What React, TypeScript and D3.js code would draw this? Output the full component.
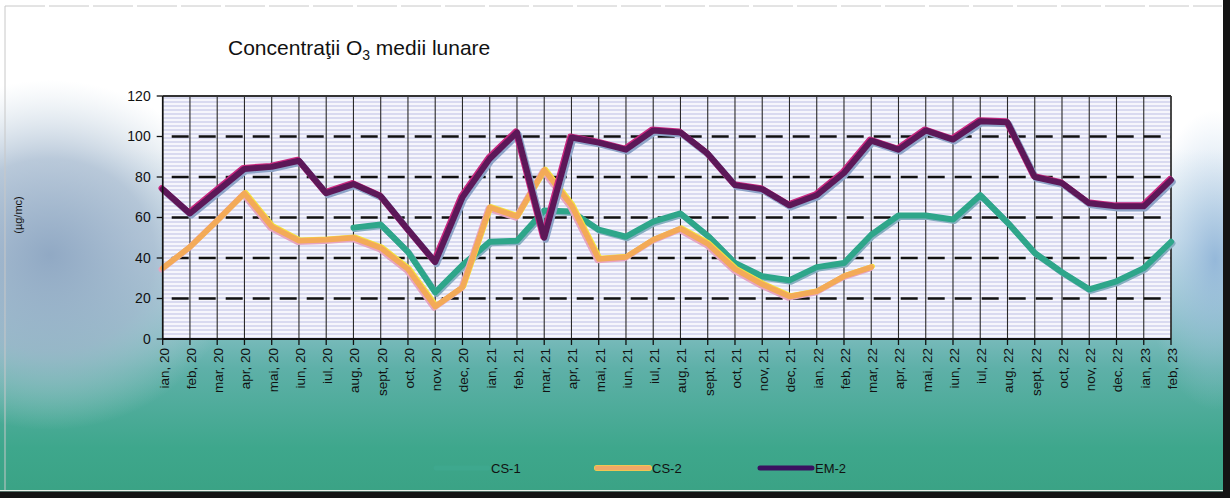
import React from "react";
import * as d3 from "d3";

const months = [
  "ian, 20","feb, 20","mar, 20","apr, 20","mai, 20","iun, 20","iul, 20","aug, 20","sept, 20","oct, 20","nov, 20","dec, 20",
  "ian, 21","feb, 21","mar, 21","apr, 21","mai, 21","iun, 21","iul, 21","aug, 21","sept, 21","oct, 21","nov, 21","dec, 21",
  "ian, 22","feb, 22","mar, 22","apr, 22","mai, 22","iun, 22","iul, 22","aug, 22","sept, 22","oct, 22","nov, 22","dec, 22",
  "ian, 23","feb, 23",
];

const cs1: (number | null)[] = [
  null, null, null, null, null, null, null, 55, 56.5, 43, 23, 36.5,
  48, 48.5, 63.5, 63, 54, 50.5, 58, 62, 51, 37.5, 31, 29,
  35.5, 37.5, 51.5, 61, 61, 59, 71, 57.5, 42.5, 33, 24.5, 28.5,
  35, 48,
];

const cs2: (number | null)[] = [
  35, 45.5, 58.5, 72, 55.5, 48.5, 49, 50, 45, 34.5, 16, 25.5,
  65, 60.5, 83.5, 66, 39.5, 40.5, 49, 54.5, 47, 34.5, 27, 21,
  23.5, 31, 35.5, null, null, null, null, null, null, null, null, null,
  null, null,
];

const em2: (number | null)[] = [
  74, 62, 73, 84, 85, 88, 72, 76.5, 70.5, 54, 38, 70,
  89, 102, 50, 99.5, 97, 93.5, 103, 102, 91.5, 76, 74, 66,
  71, 82, 98, 93.5, 103, 98.5, 107.5, 107, 80, 77, 67, 65.5,
  65.5, 78.5,
];

const yTicks = [0, 20, 40, 60, 80, 100, 120];
const seriesNames = ["CS-1", "CS-2", "EM-2"];

const W = 1230;
const H = 498;
const PL = 162.7;
const PR = 1171;
const PT = 96;
const PB = 339;
const FONT = "Liberation Sans, Arial, sans-serif";

export default function App() {
  const x = d3.scalePoint<string>().domain(months).range([PL, PR]);
  const y = d3.scaleLinear().domain([0, 120]).range([PB, PT]);

  const mk = (vals: (number | null)[]) =>
    d3
      .line<number | null>()
      .defined((d) => d !== null)
      .x((_, i) => x(months[i]) as number)
      .y((d) => y(d as number))(vals) || "";

  const p1 = mk(cs1);
  const p2 = mk(cs2);
  const p3 = mk(em2);

  const legendX = [436, 597, 760];

  return (
    <svg
      width={W}
      height={H}
      style={{ position: "absolute", left: 0, top: 0, display: "block" }}
      xmlns="http://www.w3.org/2000/svg"
    >
      <defs>
        <linearGradient id="bg" x1="0" y1="0" x2="0" y2="1">
          <stop offset="0%" stopColor="#ffffff" />
          <stop offset="30%" stopColor="#ffffff" />
          <stop offset="48%" stopColor="#d4e6ee" />
          <stop offset="64%" stopColor="#88c0c6" />
          <stop offset="74%" stopColor="#5eb0a8" />
          <stop offset="90%" stopColor="#3ea78c" />
          <stop offset="100%" stopColor="#3aa284" />
        </linearGradient>
        <radialGradient id="cloudL" cx="0.5" cy="0.5" r="0.5">
          <stop offset="0%" stopColor="#8ea6c2" stopOpacity="0.95" />
          <stop offset="55%" stopColor="#a4b8ce" stopOpacity="0.75" />
          <stop offset="100%" stopColor="#c8d8e4" stopOpacity="0" />
        </radialGradient>
        <radialGradient id="cloudR" cx="0.5" cy="0.5" r="0.5">
          <stop offset="0%" stopColor="#90b4d8" stopOpacity="0.9" />
          <stop offset="100%" stopColor="#b8d0e8" stopOpacity="0" />
        </radialGradient>
        <pattern id="stripes" patternUnits="userSpaceOnUse" width="20" height="4">
          <rect x="0" y="0" width="20" height="4" fill="#f6f6fc" />
          <rect x="0" y="1" width="20" height="2" fill="#d9daf0" />
        </pattern>
      </defs>

      {/* background */}
      <rect x={0} y={0} width={W} height={H} fill="url(#bg)" />
      <ellipse cx={50} cy={255} rx={190} ry={175} fill="url(#cloudL)" />
      <ellipse cx={1215} cy={260} rx={70} ry={150} fill="url(#cloudR)" />
      <line x1={5} y1={6} x2={1222} y2={6} stroke="#c8c8c8" strokeWidth={1} strokeDasharray="40 4" />
      <line x1={5} y1={6} x2={5} y2={490} stroke="#c8c8c8" strokeWidth={1} />
      <rect x={0} y={490} width={W} height={1.5} fill="#e8f0e8" />
      <rect x={0} y={491.5} width={W} height={H - 491.5} fill="#141414" />
      <rect x={1223} y={0} width={W - 1223} height={H} fill="#141414" />

      {/* title */}
      <text x={228} y={55} fontFamily={FONT} fontSize={21} fill="#111">
        Concentraţii O<tspan fontSize={14} dy={5}>3</tspan>
        <tspan dy={-5}> medii lunare</tspan>
      </text>

      {/* y axis title */}
      <text
        transform={`translate(22,215) rotate(-90)`}
        textAnchor="middle"
        fontFamily={FONT}
        fontSize={11}
        fill="#111"
      >
        (µg/mc)
      </text>

      {/* plot area */}
      <rect x={PL} y={PT} width={PR - PL} height={PB - PT} fill="url(#stripes)" />

      {/* vertical gridlines */}
      {months.map((m) => (
        <line
          key={"v" + m}
          x1={x(m)}
          x2={x(m)}
          y1={PT}
          y2={PB}
          stroke="#2a2a2a"
          strokeWidth={1.1}
        />
      ))}

      {/* horizontal dashed gridlines */}
      {yTicks
        .filter((t) => t > 0 && t < 120)
        .map((t) => (
          <line
            key={"h" + t}
            x1={PL}
            x2={PR}
            y1={y(t)}
            y2={y(t)}
            stroke="#111"
            strokeWidth={2.4}
            strokeDasharray="17 10"
            strokeDashoffset={18}
          />
        ))}

      {/* plot borders */}
      <line x1={PL} x2={PR} y1={PT} y2={PT} stroke="#333" strokeWidth={2} />
      <line x1={PR} x2={PR} y1={PT} y2={PB} stroke="#333" strokeWidth={1.5} />

      {/* series */}
      <g fill="none" strokeLinejoin="round" strokeLinecap="round">
        <path d={p1} stroke="#86aec0" strokeWidth={6} transform="translate(1.5,1.5)" />
        <path d={p1} stroke="#2ea68a" strokeWidth={6} />

        <path d={p2} stroke="#e6a4c0" strokeWidth={6} transform="translate(-1.2,1.2)" />
        <path d={p2} stroke="#f4e23c" strokeWidth={5} transform="translate(1.2,-0.8)" />
        <path d={p2} stroke="#f3aa58" strokeWidth={5.5} />

        <path d={p3} stroke="#8ea4c8" strokeWidth={6.5} transform="translate(1.5,1.8)" />
        <path d={p3} stroke="#c8267e" strokeWidth={6} transform="translate(-1.2,-1)" />
        <path d={p3} stroke="#5c1858" strokeWidth={6} />
      </g>

      {/* axes */}
      <line x1={PL} x2={PL} y1={PT} y2={PB} stroke="#111" strokeWidth={1.6} />
      <line x1={PL} x2={PR} y1={PB} y2={PB} stroke="#111" strokeWidth={2} />
      {yTicks.map((t) => (
        <g key={"yt" + t}>
          <line x1={PL - 6} x2={PL} y1={y(t)} y2={y(t)} stroke="#111" strokeWidth={1.3} />
          <text
            x={PL - 12}
            y={y(t)}
            dy="0.35em"
            textAnchor="end"
            fontFamily={FONT}
            fontSize={14}
            fill="#111"
          >
            {t}
          </text>
        </g>
      ))}
      {months.map((m) => (
        <g key={"xt" + m}>
          <line x1={x(m)} x2={x(m)} y1={PB} y2={PB + 6} stroke="#111" strokeWidth={1.3} />
          <text
            transform={`translate(${(x(m) as number) + 6},${PB + 9}) rotate(-90)`}
            textAnchor="end"
            fontFamily={FONT}
            fontSize={13.5}
            fill="#111"
          >
            {m}
          </text>
        </g>
      ))}

      {/* legend */}
      {seriesNames.map((s, i) => {
        const lx = legendX[i];
        const color = i === 0 ? "#3ea88e" : i === 1 ? "#f0a868" : "#3a1060";
        return (
          <g key={"lg" + s}>
            {i === 1 && (
              <line x1={lx} x2={lx + 52} y1={468} y2={468} stroke="#f4e23c" strokeWidth={6} strokeLinecap="round" />
            )}
            <line x1={lx} x2={lx + 52} y1={468} y2={468} stroke={color} strokeWidth={5} strokeLinecap="round" />
            <text
              x={lx + 55}
              y={468}
              dy="0.35em"
              fontFamily={FONT}
              fontSize={13}
              fill="#111"
            >
              {s}
            </text>
          </g>
        );
      })}
    </svg>
  );
}
